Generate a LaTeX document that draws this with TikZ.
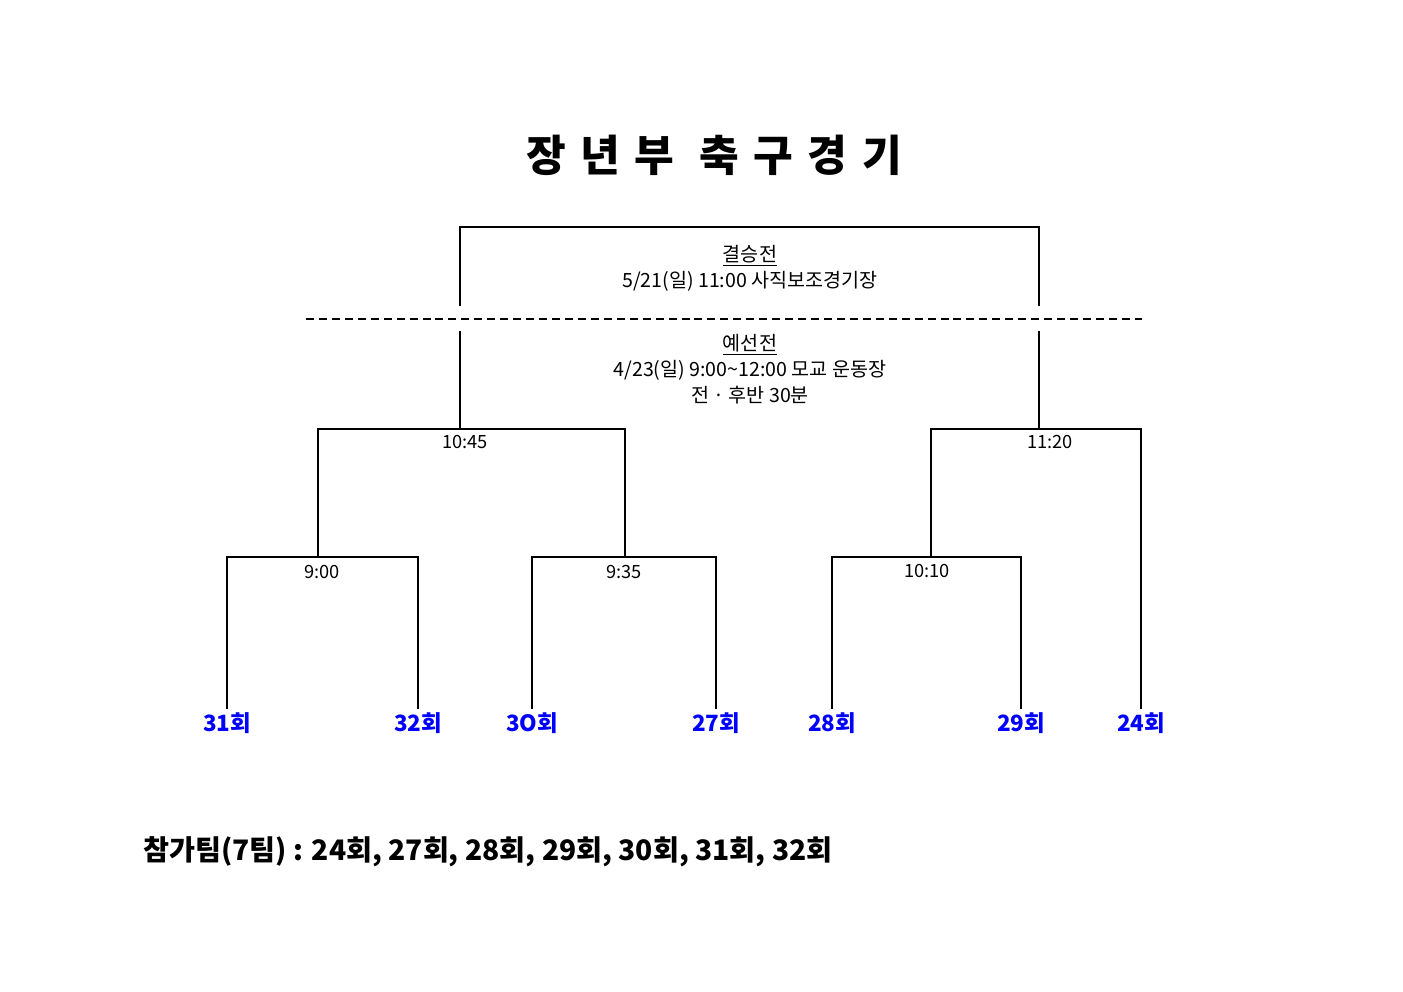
\documentclass[tikz,border=0pt]{standalone}
\usepackage{fontspec}
\setmainfont{Noto Sans CJK KR}
\newfontfamily\titlefont[LetterSpace=34]{Noto Sans CJK KR}
\usetikzlibrary{positioning}

\begin{document}
\begin{tikzpicture}[x=0.2117mm, y=-0.2117mm,
    bar/.style={line width=1.2pt},
    time/.style={inner sep=1pt, font=\fontsize{11}{13}\selectfont},
    team/.style={inner sep=2pt, text=blue, font=\bfseries\fontsize{13.5}{16}\selectfont},
    info/.style={align=center, inner sep=1pt, font=\fontsize{11.8}{15.6}\selectfont}]
    \useasboundingbox (0,0) rectangle (1403,992);
    \node[font=\titlefont\bfseries\fontsize{26}{30}\selectfont] (title) at (714,155) {장년부 축구경기};
    % teams
    \node[team] (t31) at (227,723) {31회};
    \node[team] (t32) at (418,723) {32회};
    \node[team] (t30) at (532,723) {3O회};
    \node[team] (t27) at (716,723) {27회};
    \node[team] (t28) at (832,723) {28회};
    \node[team] (t29) at (1021,723) {29회};
    \node[team] (t24) at (1141,723) {24회};
    % match points
    \coordinate (j900) at (318,557);
    \coordinate (j935) at (625,557);
    \coordinate (j1010) at (931,557);
    \coordinate (j1045) at (460,429);
    \coordinate (j1120) at (1039,429);
    \coordinate (fL) at (460,331);
    \coordinate (fR) at (1039,331);
    \coordinate (fLtop) at (460,306);
    \coordinate (fRtop) at (1039,306);
    \coordinate (fin) at (750,227);
    \draw[bar] (t31.north) |- (j900) -| (t32.north);
    \draw[bar] (t30.north) |- (j935) -| (t27.north);
    \draw[bar] (t28.north) |- (j1010) -| (t29.north);
    \draw[bar] (j900) |- (j1045) -| (j935);
    \draw[bar] (j1010) |- (j1120) -| (t24.north);
    \draw[bar] (j1045) -- (fL);
    \draw[bar] (j1120) -- (fR);
    \draw[bar] (fLtop) |- (fin) -| (fRtop);
    \draw[bar, dash pattern=on 4.8pt off 3pt] (306,319) -- (1142,319);
    % times
    \node[time] (m900) at (322,572) {9:00};
    \node[time] (m935) at (624,572) {9:35};
    \node[time] (m1010) at (927,571) {10:10};
    \node[time] (m1045) at (465,442) {10:45};
    \node[time] (m1120) at (1050,442) {11:20};
    \node[info] (final) at (750,268) {\underline{결승전}\\5/21(일) 11:00 사직보조경기장};
    \node[info] (prelim) at (750,369) {\underline{예선전}\\4/23(일) 9:00\textasciitilde12:00 모교 운동장\\전 · 후반 30분};
    \node[anchor=west, inner sep=0pt, font=\bfseries\fontsize{17}{20}\selectfont] (teams) at (143,852) {참가팀(7팀) : 24회, 27회, 28회, 29회, 30회, 31회, 32회};
\end{tikzpicture}
\end{document}
